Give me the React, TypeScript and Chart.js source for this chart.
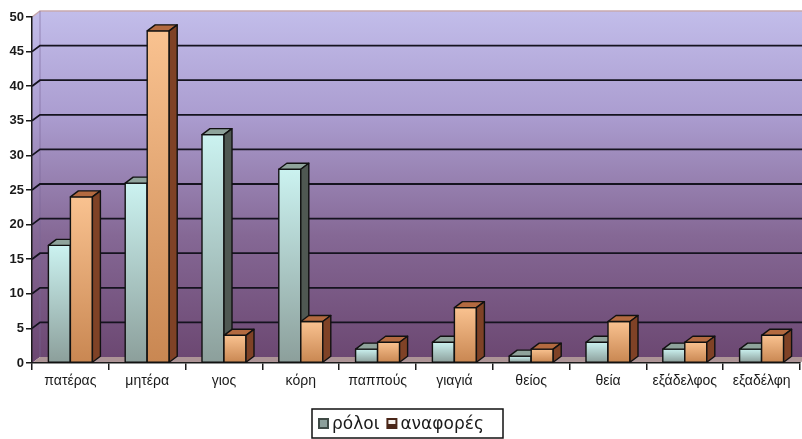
import { useEffect, useRef } from "react";
import { Chart, registerables } from "chart.js";

Chart.register(...registerables);

// Data
const categories = [
  "πατέρας",
  "μητέρα",
  "γιος",
  "κόρη",
  "παππούς",
  "γιαγιά",
  "θείος",
  "θεία",
  "εξάδελφος",
  "εξαδέλφη",
];
const seriesNames = ["ρόλοι", "αναφορές"];
const roloi = [17, 26, 33, 28, 2, 3, 1, 3, 2, 2];
const anafores = [24, 48, 4, 6, 3, 8, 2, 6, 3, 4];
const yMin = 0;
const yMax = 50;
const yStep = 5;

const FONT = '"Liberation Sans", Arial, sans-serif';
const LEGEND_FONT = '"DejaVu Sans", Verdana, sans-serif';
const DX = 8; // depth offset to the right
const DY = 6; // depth offset upward

// Face colours per series: front gradient (top -> bottom), top face, side face
const faceColors = [
  { frontTop: "#cbf2f0", frontBottom: "#8c9f9b", top: "#8fa39b", side: "#4f5852" },
  { frontTop: "#f9c290", frontBottom: "#c98752", top: "#b36a40", side: "#7f4226" },
];

const wall3dPlugin = {
  id: "wall3d",
  beforeDraw(chart: any) {
    const { ctx, chartArea, width } = chart;
    const { left, right, top, bottom } = chartArea;
    const yScale = chart.scales.y;
    ctx.save();

    const grad = ctx.createLinearGradient(0, top - DY, 0, bottom - DY);
    grad.addColorStop(0, "#c2bdea");
    grad.addColorStop(0.3, "#ab9dd0");
    grad.addColorStop(0.65, "#856895");
    grad.addColorStop(1, "#6c4872");

    // back wall
    ctx.fillStyle = grad;
    ctx.fillRect(left + DX, top - DY, width - left - DX, bottom - top);

    // side wall
    ctx.beginPath();
    ctx.moveTo(left, top);
    ctx.lineTo(left + DX, top - DY);
    ctx.lineTo(left + DX, bottom - DY);
    ctx.lineTo(left, bottom);
    ctx.closePath();
    ctx.fill();

    // floor
    ctx.beginPath();
    ctx.moveTo(left, bottom);
    ctx.lineTo(right, bottom);
    ctx.lineTo(right + DX, bottom - DY);
    ctx.lineTo(left + DX, bottom - DY);
    ctx.closePath();
    ctx.fillStyle = "#ad9496";
    ctx.fill();

    // wall edges
    ctx.strokeStyle = "#c8a9ae";
    ctx.lineWidth = 1.5;
    ctx.beginPath();
    ctx.moveTo(left, top);
    ctx.lineTo(left + DX, top - DY);
    ctx.lineTo(width, top - DY);
    ctx.stroke();
    ctx.strokeStyle = "rgba(120,100,150,0.6)";
    ctx.lineWidth = 1;
    ctx.beginPath();
    ctx.moveTo(left + DX, top - DY);
    ctx.lineTo(left + DX, bottom - DY);
    ctx.stroke();

    // gridlines on side and back wall
    ctx.strokeStyle = "#15131f";
    ctx.lineWidth = 1.8;
    for (let v = yMin + yStep; v < yMax; v += yStep) {
      const py = yScale.getPixelForValue(v);
      ctx.beginPath();
      ctx.moveTo(left, py);
      ctx.lineTo(left + DX, py - DY);
      ctx.lineTo(width, py - DY);
      ctx.stroke();
    }
    ctx.restore();
  },
  afterDatasetsDraw(chart: any) {
    const { ctx } = chart;
    ctx.save();
    ctx.lineJoin = "round";
    ctx.lineWidth = 1.4;
    ctx.strokeStyle = "#111111";
    const n = chart.data.labels.length;
    for (let i = 0; i < n; i++) {
      for (let d = 0; d < chart.data.datasets.length; d++) {
        const meta = chart.getDatasetMeta(d);
        const el = meta.data[i];
        if (!el) continue;
        const { x, y, base, width } = el.getProps(["x", "y", "base", "width"], true);
        const x0 = x - width / 2;
        const x1 = x + width / 2;
        const c = faceColors[d];

        // front face
        const g = ctx.createLinearGradient(0, y, 0, base);
        g.addColorStop(0, c.frontTop);
        g.addColorStop(1, c.frontBottom);
        ctx.fillStyle = g;
        ctx.beginPath();
        ctx.rect(x0, y, x1 - x0, base - y);
        ctx.fill();
        ctx.stroke();

        // top face
        ctx.fillStyle = c.top;
        ctx.beginPath();
        ctx.moveTo(x0, y);
        ctx.lineTo(x0 + DX, y - DY);
        ctx.lineTo(x1 + DX, y - DY);
        ctx.lineTo(x1, y);
        ctx.closePath();
        ctx.fill();
        ctx.stroke();

        // side face
        ctx.fillStyle = c.side;
        ctx.beginPath();
        ctx.moveTo(x1, y);
        ctx.lineTo(x1 + DX, y - DY);
        ctx.lineTo(x1 + DX, base - DY);
        ctx.lineTo(x1, base);
        ctx.closePath();
        ctx.fill();
        ctx.stroke();
      }
    }
    ctx.restore();
  },
  afterDraw(chart: any) {
    const { ctx } = chart;
    ctx.save();
    ctx.font = `17px ${LEGEND_FONT}`;
    ctx.textBaseline = "middle";
    const boxX = 312;
    const boxY = 409;
    const boxW = 191;
    const boxH = 29;
    ctx.fillStyle = "#ffffff";
    ctx.fillRect(boxX, boxY, boxW, boxH);
    ctx.strokeStyle = "#111";
    ctx.lineWidth = 1.5;
    ctx.strokeRect(boxX, boxY, boxW, boxH);

    const cy = boxY + 15;
    let cx = boxX + 6;
    seriesNames.forEach((name, d) => {
      const c = faceColors[d];
      // key swatch
      ctx.fillStyle = d === 0 ? "#3f4a46" : "#4a2618";
      ctx.fillRect(cx, cy - 6, 11, 11);
      ctx.fillStyle = d === 0 ? c.frontBottom : "#f4f0ec";
      ctx.fillRect(cx + 2, cy - 4, 7, d === 0 ? 7 : 4);
      cx += 14;
      ctx.fillStyle = "#1a1a1a";
      ctx.fillText(name, cx, cy + 1);
      cx += ctx.measureText(name).width + 7;
    });
    ctx.restore();
  },
};

export default function App() {
  const canvasRef = useRef<HTMLCanvasElement | null>(null);

  useEffect(() => {
    document.body.style.margin = "0";
    const canvas = canvasRef.current;
    if (!canvas) return;
    const chart = new Chart(canvas, {
      type: "bar",
      data: {
        labels: categories,
        datasets: [
          {
            label: seriesNames[0],
            data: roloi,
            backgroundColor: "rgba(0,0,0,0)",
            borderWidth: 0,
            categoryPercentage: 0.573,
            barPercentage: 1,
          },
          {
            label: seriesNames[1],
            data: anafores,
            backgroundColor: "rgba(0,0,0,0)",
            borderWidth: 0,
            categoryPercentage: 0.573,
            barPercentage: 1,
          },
        ],
      },
      options: {
        responsive: false,
        animation: false,
        devicePixelRatio: 1,
        layout: { padding: { left: 0, right: 2, top: 17, bottom: 46 } },
        plugins: {
          legend: { display: false },
          tooltip: { enabled: false },
        },
        scales: {
          x: {
            offset: true,
            afterFit: (axis: any) => {
              axis.height = 30;
            },
            grid: {
              display: true,
              drawOnChartArea: false,
              drawTicks: true,
              tickLength: 7,
              color: "#1a1a1a",
              lineWidth: 1.5,
              offset: true,
            },
            border: { display: true, color: "#1a1a1a", width: 1.5 },
            ticks: {
              color: "#1a1a1a",
              padding: 3,
              maxRotation: 0,
              autoSkip: false,
              font: { family: FONT, size: 14 },
            },
          },
          y: {
            min: yMin,
            max: yMax,
            afterFit: (axis: any) => {
              axis.width = 32;
            },
            grid: {
              display: true,
              drawOnChartArea: false,
              drawTicks: true,
              tickLength: 6,
              color: "#1a1a1a",
              lineWidth: 1.5,
            },
            border: { display: true, color: "#1a1a1a", width: 1.5 },
            ticks: {
              stepSize: yStep,
              color: "#1a1a1a",
              padding: 2,
              font: { family: FONT, size: 13, weight: "bold" },
            },
          },
        },
      },
      plugins: [wall3dPlugin],
    });
    return () => chart.destroy();
  }, []);

  return (
    <div style={{ width: 802, height: 439, background: "#ffffff" }}>
      <canvas ref={canvasRef} width={802} height={439} />
    </div>
  );
}
